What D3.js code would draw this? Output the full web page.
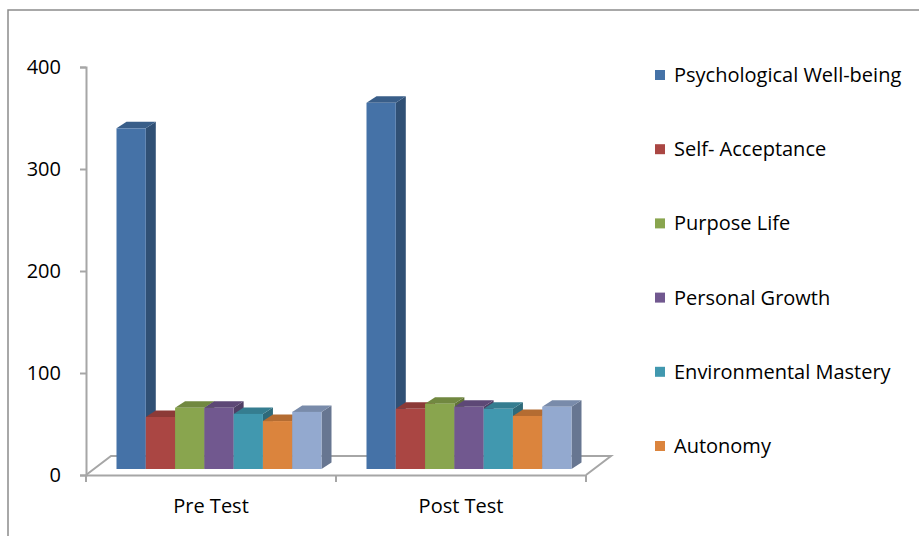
<!DOCTYPE html>
<html><head><meta charset="utf-8">
<script src="https://cdn.jsdelivr.net/npm/d3@7"></script>
<style>html,body{margin:0;padding:0;background:#fff;}svg{display:block;}</style>
</head><body>
<svg id="chart" width="919" height="536"></svg>
<script>
const categories = ["Pre Test", "Post Test"];
const seriesNames = ["Psychological Well-being", "Self- Acceptance", "Purpose Life", "Personal Growth", "Environmental Mastery", "Autonomy", "Positive Relations"];
const preTest  = [334, 51, 60, 60, 54, 47, 56];
const postTest = [359, 59, 64, 61, 59, 52, 61];
const colors = ["#4572A7", "#AA4643", "#89A54E", "#71588F", "#4198AF", "#DB843D", "#93A9CF"];
const yTicks = [0, 100, 200, 300, 400];
const legendShown = 6;

const values = [preTest, postTest];
const svg = d3.select("#chart");
const font = "'Open Sans', 'Liberation Sans', sans-serif";

// outer frame (only top and left edges fall inside the picture)
svg.append("path").attr("d", "M8,536 L8,10 L919,10").attr("fill", "none").attr("stroke", "#8c8c8c").attr("stroke-width", 1.5);

const y = d3.scaleLinear().domain([0, 400]).range([475, 67]);
const x0 = d3.scaleBand().domain(categories).range([86, 586]).paddingInner(0.18).paddingOuter(0.09);
const x1 = d3.scaleBand().domain(seriesNames).range([0, x0.bandwidth()]);

// depth vectors
const floorD = [25, -19];
const barFront = [8, -6];
const barDepth = [10, -6.5];

// floor
const fl = svg.append("g").attr("fill", "none").attr("stroke", "#a6a6a6").attr("stroke-width", 2);
const xl = x0.range()[0], xr = x0.range()[1];
fl.append("path").attr("d", `M${xl},${y(0)} L${xl + floorD[0]},${y(0) + floorD[1]} L${xr + floorD[0]},${y(0) + floorD[1]} L${xr},${y(0)}`);

// bars
const bars = svg.append("g");
categories.forEach((c, ci) => {
  seriesNames.forEach((s, si) => {
    const v = values[ci][si];
    const xa = x0(c) + x1(s) + barFront[0];
    const xb = xa + x1.bandwidth();
    const yb = y(0) + barFront[1];
    const yt = y(v) + barFront[1];
    const col = d3.color(colors[si]);
    const g = bars.append("g");
    g.append("path")
      .attr("d", `M${xb},${yt} L${xb + barDepth[0]},${yt + barDepth[1]} L${xb + barDepth[0]},${yb + barDepth[1]} L${xb},${yb} Z`)
      .attr("fill", col.darker(1.0));
    g.append("path")
      .attr("d", `M${xa},${yt} L${xa + barDepth[0]},${yt + barDepth[1]} L${xb + barDepth[0]},${yt + barDepth[1]} L${xb},${yt} Z`)
      .attr("fill", col.darker(0.55));
    g.append("rect").attr("x", xa).attr("y", yt).attr("width", xb - xa).attr("height", yb - yt)
      .attr("fill", colors[si]);
  });
});

// y axis
const yAxis = svg.append("g").attr("transform", `translate(${xl},0)`)
  .call(d3.axisLeft(y).tickValues(yTicks).tickSize(6).tickPadding(19).tickFormat(d3.format("d")));
yAxis.select(".domain").attr("stroke", "#a6a6a6").attr("stroke-width", 2);
yAxis.selectAll(".tick line").attr("stroke", "#a6a6a6").attr("stroke-width", 2);
yAxis.selectAll(".tick text").attr("font-family", font).attr("font-size", 20).attr("fill", "#000");

// x axis
const xAxis = svg.append("g").attr("transform", `translate(0,${y(0)})`)
  .call(d3.axisBottom(x0).tickSize(0).tickPadding(24));
xAxis.select(".domain").attr("stroke", "#a6a6a6").attr("stroke-width", 2);
xAxis.selectAll(".tick text").attr("font-family", font).attr("font-size", 20).attr("fill", "#000");
const xTickPos = [xl, (xl + xr) / 2, xr];
xAxis.selectAll(".sep").data(xTickPos).enter().append("line").attr("class", "sep")
  .attr("x1", d => d).attr("x2", d => d).attr("y1", 0).attr("y2", 7)
  .attr("stroke", "#a6a6a6").attr("stroke-width", 2);

// legend
const ly = d3.scaleLinear().domain([0, 5]).range([75, 446]);
const legend = svg.append("g");
seriesNames.slice(0, legendShown).forEach((s, i) => {
  legend.append("rect").attr("x", 655).attr("y", ly(i) - 5).attr("width", 10).attr("height", 10).attr("fill", colors[i]);
  legend.append("text").attr("x", 674).attr("y", ly(i)).attr("dy", "0.35em")
    .attr("font-family", font).attr("font-size", 20).attr("fill", "#000").text(s);
});
</script>
</body></html>
